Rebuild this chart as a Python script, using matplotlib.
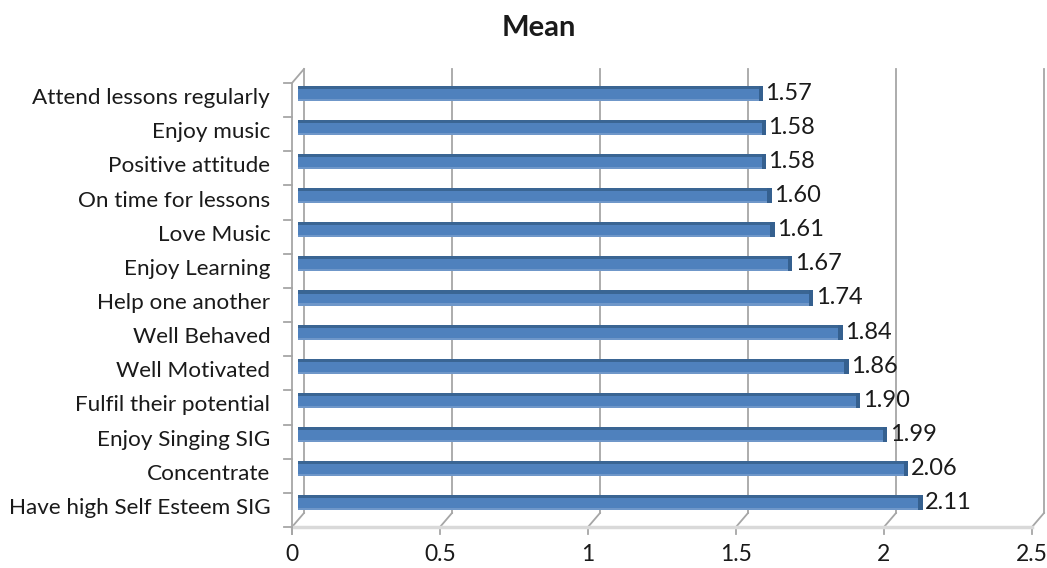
import matplotlib
matplotlib.use('Agg')
import matplotlib.pyplot as plt
from matplotlib.lines import Line2D
from matplotlib.transforms import IdentityTransform, ScaledTranslation
import numpy as np

plt.rcParams['font.family'] = ['Lato', 'DejaVu Sans']

categories = ['Attend lessons regularly', 'Enjoy music', 'Positive attitude',
              'On time for lessons', 'Love Music', 'Enjoy Learning',
              'Help one another', 'Well Behaved', 'Well Motivated',
              'Fulfil their potential', 'Enjoy Singing SIG', 'Concentrate',
              'Have high Self Esteem SIG']
means = [1.57, 1.58, 1.58, 1.60, 1.61, 1.67, 1.74, 1.84, 1.86, 1.90, 1.99, 2.06, 2.11]
xticks = [0, 0.5, 1, 1.5, 2, 2.5]
xtick_labels = ['0', '0.5', '1', '1.5', '2', '2.5']

W, H = 1047, 568
fig = plt.figure(figsize=(W / 100, H / 100), dpi=100)
ax = fig.add_axes([298 / W, 48 / H, 740 / W, 444 / H])

ypos = np.arange(len(categories))
ax.set_xlim(0, 2.5)
ax.set_ylim(len(categories) - 0.5, -0.5)
for s in ax.spines.values():
    s.set_visible(False)
ax.patch.set_alpha(0)

# depth of the fake 3d box, in pixels (back wall up/right, front edge down/left)
DX, DY = 6, 7
grid_col = '#a6a6a6'
bh = 0.44

def disp(x, y, dx=0, dy=0):
    p = ax.transData.transform((x, y))
    return p[0] + dx, p[1] + dy

def seg(p0, p1, color=grid_col, lw=1.3):
    fig.add_artist(Line2D([p0[0], p1[0]], [p0[1], p1[1]], transform=IdentityTransform(),
                          color=color, lw=lw, zorder=-1))

ybot, ytop = len(categories) - 0.5, -0.5

# back wall gridlines
for v in xticks:
    seg(disp(v, ybot, DX, DY), disp(v, ytop, DX, DY))
# floor: slanted lines to the front edge plus tick marks
for v in xticks:
    seg(disp(v, ybot, DX, DY), disp(v, ybot, -DX, -DY))
    seg(disp(v, ybot, -DX, -DY), disp(v, ybot, -DX, -DY - 7))
seg(disp(0, ybot, -DX, -DY), disp(2.5, ybot, -DX, -DY), color='#d9d9d9', lw=2.5)
# left wall: front edge with category tick marks
seg(disp(0, ytop, -DX, -DY), disp(0, ybot, -DX, -DY - 7))
seg(disp(0, ytop, -DX, -DY), disp(0, ytop, DX, DY))
for b in np.arange(-0.5, len(categories), 1.0):
    seg(disp(0, b, -DX, -DY), disp(0, b, -DX - 8, -DY))

# bars with a darker top edge and end cap
ax.barh(ypos, means, height=bh, color='#4f81bd', zorder=2)
ax.barh(ypos - bh / 2 + 0.045, means, height=0.09, color='#3a6593', zorder=3)
ax.barh(ypos + bh / 2 - 0.03, means, height=0.06, color='#6f97c9', zorder=3)
ax.barh(ypos, 0.014, left=np.array(means) - 0.014, height=bh, color='#35608f', zorder=4)

for y, v in zip(ypos, means):
    ax.annotate(f'{v:.2f}', (v, y), xytext=(2, 0), textcoords='offset points',
                va='center', ha='left', fontsize=17, color='#1a1a1a', zorder=5)

ax.set_yticks(ypos, categories, fontsize=16.2, color='#1a1a1a')
ax.tick_params(axis='y', length=0, pad=20)
ax.set_xticks(xticks, xtick_labels, fontsize=16.5, color='#1a1a1a')
ax.tick_params(axis='x', length=0, pad=17)

for lab in ax.get_xticklabels():
    lab.set_transform(lab.get_transform() + ScaledTranslation(-DX / 100, 0, fig.dpi_scale_trans))
for lab in ax.get_yticklabels():
    lab.set_transform(lab.get_transform() + ScaledTranslation(0, -3 / 100, fig.dpi_scale_trans))

fig.text(539 / W, 1 - 28 / H, 'Mean', ha='center', va='center', fontsize=21,
         fontweight='bold', color='#1a1a1a')

fig.savefig('out.png', dpi=100, facecolor='white')
